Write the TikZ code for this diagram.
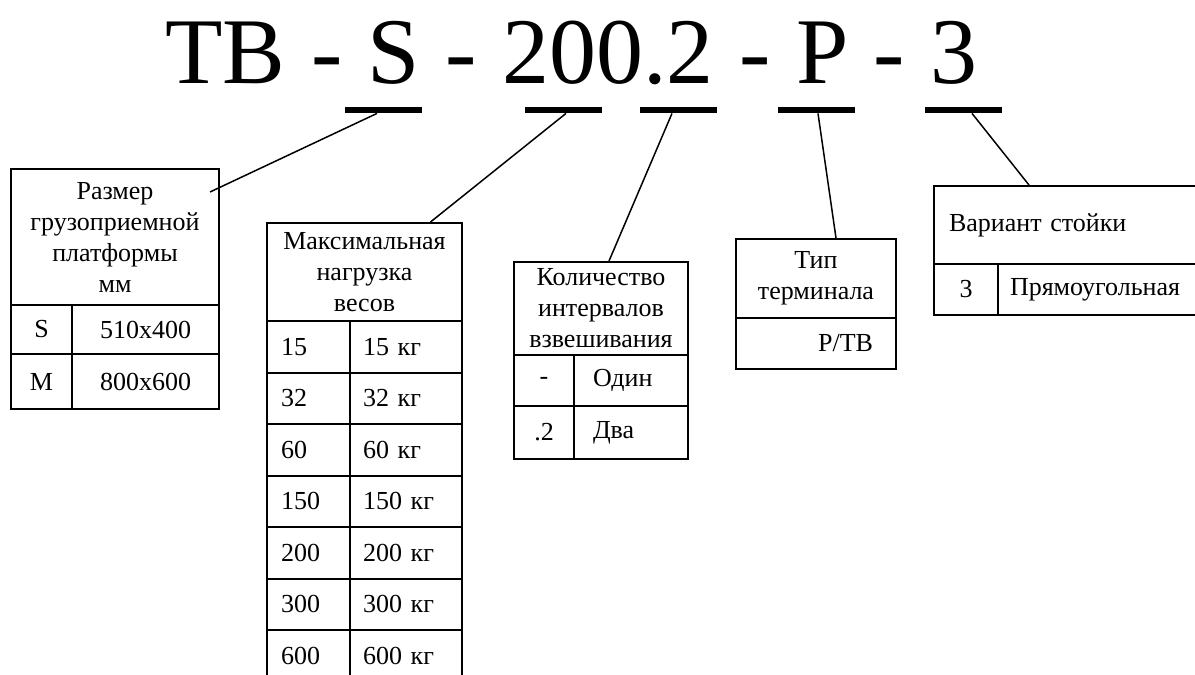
\documentclass[tikz,border=0pt]{standalone}
\usepackage{fontspec}
\setmainfont{Liberation Serif}
\usepackage{tikz}

\newcommand{\tabfont}{\fontsize{13}{15.5}\selectfont}
\newcommand{\codefont}{\fontsize{47}{50}\selectfont\spaceskip=12.75pt\relax}

\tikzset{
    box/.style={draw, line width=1pt, inner sep=0pt, anchor=north west, font=\tabfont, align=center},
    bar/.style={fill=black, minimum width=38.5pt, minimum height=3pt, inner sep=0pt},
    leader/.style={line width=0.75pt},
    lkey/.style={box, align=left, text width=27.5pt, inner xsep=7pt, minimum height=25.75pt},
    lval/.style={box, align=left, text width=43pt, inner xsep=6.5pt, minimum height=25.75pt}
}

\begin{document}
\begin{tikzpicture}[x=0.5pt, y=-0.5pt]
        \useasboundingbox (0,0) rectangle (1195,675);

        % code line
        \node [anchor=base west, inner sep=0pt, font=\codefont] (code) at (165,83) {TB - S - 200.2 - P - 3};
        \node [bar] (bsize) at (383.5,110) {};
        \node [bar] (bload) at (563.5,110) {};
        \node [bar] (bint) at (678,110) {};
        \node [bar] (bterm) at (816,110) {};
        \node [bar] (bpost) at (963,110) {};

        % platform size
        \node [box, minimum width=104pt, minimum height=68pt] (size) at (10,168) {Размер\\грузоприемной\\платформы\\мм};
        \node [box, minimum width=30.5pt, minimum height=24.5pt] (sizeS) at (10,304) {S};
        \node [box, minimum width=73.5pt, minimum height=24.5pt] (sizeSv) at (71,304) {510x400};
        \node [box, minimum width=30.5pt, minimum height=27.5pt] (sizeM) at (10,353) {M};
        \node [box, minimum width=73.5pt, minimum height=27.5pt] (sizeMv) at (71,353) {800x600};

        % max load
        \node [box, minimum width=97.5pt, minimum height=49pt] (load) at (266,222) {Максимальная\\нагрузка\\весов};
        \node [lkey] (l15) at (266,320) {15};
        \node [lval] (l15v) at (349,320) {15 кг};
        \node [lkey] (l32) at (266,371.5) {32};
        \node [lval] (l32v) at (349,371.5) {32 кг};
        \node [lkey] (l60) at (266,423) {60};
        \node [lval] (l60v) at (349,423) {60 кг};
        \node [lkey] (l150) at (266,474.5) {150};
        \node [lval] (l150v) at (349,474.5) {150 кг};
        \node [lkey] (l200) at (266,526) {200};
        \node [lval] (l200v) at (349,526) {200 кг};
        \node [lkey] (l300) at (266,577.5) {300};
        \node [lval] (l300v) at (349,577.5) {300 кг};
        \node [lkey] (l600) at (266,629) {600};
        \node [lval] (l600v) at (349,629) {600 кг};

        % weighing intervals
        \node [box, minimum width=87pt, minimum height=46.5pt] (intv) at (513,261) {Количество\\интервалов\\взвешивания};
        \node [box, minimum width=30pt, minimum height=25.5pt] (intv1) at (513,354) {-};
        \node [box, align=left, text width=38pt, inner xsep=9.5pt, minimum height=25.5pt] (intv1v) at (573,354) {Один};
        \node [box, minimum width=30pt, minimum height=26.5pt] (intv2) at (513,405) {.2};
        \node [box, align=left, text width=38pt, inner xsep=9.5pt, minimum height=26.5pt] (intv2v) at (573,405) {Два};

        % terminal
        \node [box, minimum width=80pt, minimum height=39.5pt] (term) at (735,238) {Тип\\терминала};
        \node [box, align=right, text width=57pt, inner xsep=11.5pt, minimum height=25.5pt] (termv) at (735,317) {P/TB};

        % post
        \node [box, align=left, text width=117pt, inner xsep=7.5pt, minimum height=39pt] (post) at (933,185) {Вариант стойки};
        \node [box, minimum width=32pt, minimum height=25.5pt] (post3) at (933,263) {3};
        \node [box, align=left, text width=88pt, inner xsep=6pt, minimum height=25.5pt] (post3v) at (997,263) {Прямоугольная};

    \draw [leader]
        ([xshift=-3.25pt]bsize.south) -- ([xshift=-5pt,yshift=-12pt]size.north east)
        ([xshift=1.25pt]bload.south) -- ([xshift=33pt]load.north)
        ([xshift=-3pt]bint.south) -- ([xshift=4pt]intv.north)
        ([xshift=1pt]bterm.south) -- ([xshift=10pt]term.north)
        ([xshift=4.5pt]bpost.south) -- ([xshift=-18.5pt]post.north)
        ;
\end{tikzpicture}
\end{document}
